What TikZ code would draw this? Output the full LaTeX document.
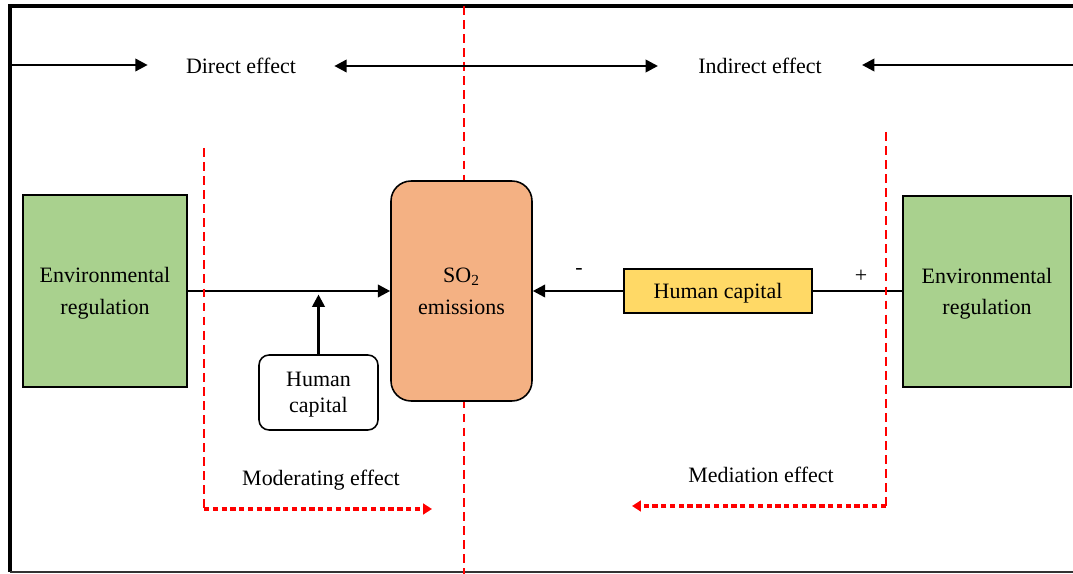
\documentclass[tikz,border=0pt]{standalone}
\usepackage{fontspec}
\setmainfont{Liberation Serif}
\usetikzlibrary{arrows.meta}
\usetikzlibrary{positioning}
\definecolor{regulgreen}{HTML}{A9D18E}
\definecolor{emisorange}{HTML}{F4B183}
\definecolor{capyellow}{HTML}{FFD966}
\tikzset{
    box/.style={rectangle, draw=black, line width=0.9pt, align=center,
        text depth=0pt, font=\fontsize{12.5}{18}\selectfont},
    label/.style={font=\fontsize{12.5}{18}\selectfont, inner ysep=0pt},
    flow/.style={line width=1.5pt, -{Triangle[length=7pt,width=7pt]}},
    splitline/.style={red, line width=1.3pt, dash pattern=on 5pt off 3pt},
    effectline/.style={red, line width=1.8pt, dash pattern=on 3pt off 2pt,
        -{Triangle[length=5pt,width=6pt]}},
}
\begin{document}
\begin{tikzpicture}[x=0.02cm, y=-0.02cm]
        \useasboundingbox (0,0) rectangle (1073,574);

        % frame
        \draw[line width=2.3pt] (1073,6) -- (10,6) -- (10,572);
        \draw[black!80, line width=1pt] (10,572) -- (1073,572);

        % split between direct and indirect part
        \coordinate (splittop) at (464,6);
        \coordinate (splitbot) at (464,574);
        \draw[splitline] (splittop) -- (splitbot);

        % nodes
        \node (regleft) at (105,291) [box,
            minimum width=3.28cm, minimum height=3.84cm,
            fill=regulgreen,
        ] {Environmental\\regulation};

        \node (so2) at (461.5,291) [box,
            minimum width=2.82cm, minimum height=4.4cm,
            rounded corners=0.4cm, fill=emisorange,
        ] {SO\textsubscript{2}\\emissions};

        \node (capmod) at (318.5,392.5) [box,
            minimum width=2.38cm, minimum height=1.5cm,
            rounded corners=0.2cm, fill=white,
            font=\fontsize{12.5}{14.5}\selectfont,
        ] {Human\\capital};

        \node (capmed) at (718,291) [box,
            minimum width=3.76cm, minimum height=0.88cm,
            fill=capyellow,
        ] {Human capital};

        \node (regright) at (987,291.5) [box,
            minimum width=3.36cm, minimum height=3.82cm,
            fill=regulgreen,
        ] {Environmental\\regulation};

        % top labels
        \node (direct) at (241,66) [label, inner xsep=0.76cm] {Direct effect};
        \node (indirect) at (760,66) [label, inner xsep=0.8cm] {Indirect effect};
        \coordinate (frameleft) at (10,65);
        \coordinate (frameright) at (1073,65);
        \draw[flow] (frameleft) -- (frameleft -| direct.west);
        \draw[flow, {Triangle[length=7pt,width=7pt]}-{Triangle[length=7pt,width=7pt]}]
            (direct.east) -- (direct.east -| indirect.west);
        \draw[flow] (frameright) -- (frameright -| indirect.east);

        % connectors
        \draw[flow] (regleft.east) -- (regleft.east -| so2.west);
        \coordinate (modpoint) at (capmod.north |- regleft.east);
        \draw[flow, shorten >=2pt] (capmod.north) -- (modpoint);
        \draw[flow] (capmed.west) -- (capmed.west -| so2.east);
        \draw[line width=1.5pt] (regright.west |- capmed.east) -- (capmed.east);

        \node (minus) at (579,272) [label] {-};
        \node (plus) at (861,276) [label] {+};

        % moderating effect
        \coordinate (modtop) at (204,148);
        \coordinate (modcorner) at (204,509);
        \coordinate (modend) at (432,509);
        \draw[splitline] (modtop) -- (modcorner);
        \draw[effectline] (modcorner) -- (modend);
        \node (moderating) at (321,480) [label] {Moderating effect};

        % mediation effect
        \coordinate (medtop) at (886,132);
        \coordinate (medcorner) at (886,506);
        \coordinate (medend) at (632,506);
        \draw[splitline] (medtop) -- (medcorner);
        \draw[effectline] (medcorner) -- (medend);
        \node (mediation) at (761,475) [label] {Mediation effect};
\end{tikzpicture}
\end{document}
